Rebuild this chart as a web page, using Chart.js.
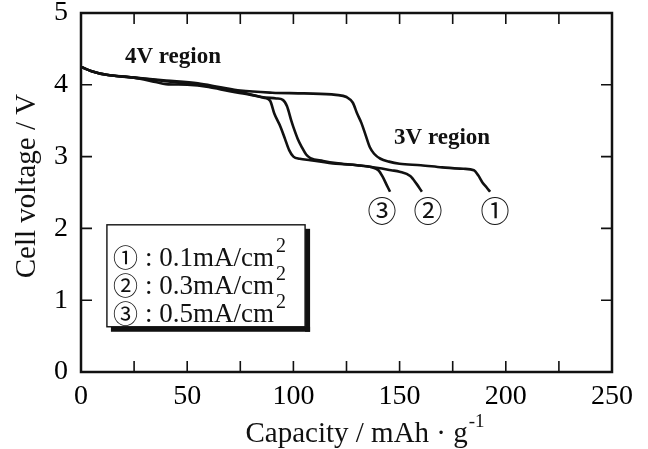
<!DOCTYPE html>
<html><head><meta charset="utf-8">
<script src="https://cdn.jsdelivr.net/npm/chart.js@4.4.1/dist/chart.umd.min.js"></script>
<style>html,body{margin:0;padding:0;background:#fff}canvas{display:block}</style>
</head><body>
<canvas id="c" width="648" height="449"></canvas>
<script>
'use strict';
// Discharge curves (cell voltage vs capacity) at three current densities.

const CAP_1 = [0, 5, 12, 25, 40, 55, 65, 75, 90, 105, 120, 125, 128, 130, 132, 134, 136, 138, 141, 145, 150, 160, 170, 180, 185, 187, 189, 191, 192.6];
const V_1   = [4.25, 4.19, 4.14, 4.10, 4.06, 4.02, 3.97, 3.92, 3.89, 3.88, 3.86, 3.83, 3.75, 3.60, 3.47, 3.30, 3.13, 3.04, 2.97, 2.93, 2.90, 2.88, 2.85, 2.83, 2.81, 2.74, 2.64, 2.57, 2.51];

const CAP_2 = [0, 5, 12, 25, 40, 55, 65, 75, 85, 92, 95, 97, 99, 100, 102, 104, 106, 108, 114, 120, 130, 140, 146, 150, 155, 158, 160.5];
const V_2   = [4.25, 4.19, 4.14, 4.10, 4.05, 4.00, 3.96, 3.90, 3.83, 3.81, 3.79, 3.70, 3.50, 3.41, 3.25, 3.13, 3.03, 2.98, 2.94, 2.91, 2.88, 2.84, 2.81, 2.79, 2.73, 2.62, 2.51];

const CAP_3 = [0, 5, 12, 25, 35, 40, 50, 60, 70, 80, 86, 89, 91, 94, 96, 98, 100, 103, 108, 120, 130, 137, 140, 142, 144, 145.5];
const V_3   = [4.25, 4.19, 4.14, 4.10, 4.04, 4.01, 4.00, 3.97, 3.91, 3.86, 3.82, 3.78, 3.60, 3.41, 3.25, 3.09, 3.00, 2.97, 2.95, 2.90, 2.88, 2.85, 2.81, 2.72, 2.60, 2.51];

const MARKS = ['\u2460', '\u2461', '\u2462'];          // ① ② ③
const RATES = ['0.1', '0.3', '0.5'];                    // mA/cm2
const X_MIN = 0, X_MAX = 250, X_STEP = 25, X_LABEL_STEP = 50;
const Y_MIN = 0, Y_MAX = 5, Y_STEP = 1;

const SERIF = "'Liberation Serif', 'Times New Roman', serif";
const CIRC = "'Noto Sans CJK JP', 'DejaVu Sans', sans-serif";
const INK = '#111';

const pts = (xs, ys) => xs.map((x, i) => ({ x, y: ys[i] }));
const line = (xs, ys) => ({ data: pts(xs, ys), borderColor: INK, borderWidth: 2.6, pointRadius: 0, cubicInterpolationMode: 'monotone', fill: false });

// frame, inward ticks, annotations, legend box and axis titles
const decor = {
  id: 'decor',
  afterDraw(chart) {
    const { ctx, chartArea: a, scales: { x, y } } = chart;
    ctx.save();
    ctx.strokeStyle = INK; ctx.fillStyle = INK;

    ctx.lineWidth = 2.5;
    ctx.strokeRect(a.left, a.top, a.right - a.left, a.bottom - a.top);

    ctx.lineWidth = 1.6;
    ctx.beginPath();
    for (let v = X_MIN + X_STEP; v < X_MAX; v += X_STEP) {
      const px = x.getPixelForValue(v);
      ctx.moveTo(px, a.bottom); ctx.lineTo(px, a.bottom - 11);
      ctx.moveTo(px, a.top); ctx.lineTo(px, a.top + 11);
    }
    for (let v = Y_MIN + Y_STEP; v < Y_MAX; v += Y_STEP) {
      const py = y.getPixelForValue(v);
      ctx.moveTo(a.left, py); ctx.lineTo(a.left + 11, py);
      ctx.moveTo(a.right, py); ctx.lineTo(a.right - 11, py);
    }
    ctx.stroke();

    // region labels
    ctx.textAlign = 'center'; ctx.textBaseline = 'middle';
    ctx.font = `bold 23px ${SERIF}`;
    ctx.fillText('4V region', x.getPixelForValue(43.3), y.getPixelForValue(4.39));
    ctx.fillText('3V region', x.getPixelForValue(170), y.getPixelForValue(3.26));

    // curve end markers
    ctx.font = `29px ${CIRC}`;
    const ends = [194.9, 163.4, 141.7];
    MARKS.forEach((m, i) => ctx.fillText(m, x.getPixelForValue(ends[i]), y.getPixelForValue(2.24)));

    // legend box with drop shadow
    const bx = x.getPixelForValue(12.2), by = y.getPixelForValue(2.05);
    const bw = x.getPixelForValue(105.5) - bx, bh = y.getPixelForValue(0.63) - by;
    ctx.fillRect(bx + 4, by + bh, bw + 1, 5);
    ctx.fillRect(bx + bw, by + 4, 5, bh + 1);
    ctx.fillStyle = '#fff'; ctx.fillRect(bx, by, bw, bh);
    ctx.fillStyle = INK; ctx.lineWidth = 1.4; ctx.strokeRect(bx, by, bw, bh);
    ctx.textAlign = 'left'; ctx.textBaseline = 'alphabetic';
    MARKS.forEach((m, i) => {
      const base = by + 41 + i * 28;
      ctx.font = `25px ${CIRC}`;
      ctx.fillText(m, bx + 6, base + 1);
      ctx.font = `27px ${SERIF}`;
      const t = ': ' + RATES[i] + 'mA/cm';
      ctx.fillText(t, bx + 38, base);
      const w = ctx.measureText(t).width;
      ctx.font = `20px ${SERIF}`;
      ctx.fillText('2', bx + 38 + w + 2, base - 14);
    });

    // x title with superscript
    ctx.font = `29px ${SERIF}`;
    const xt = 'Capacity / mAh \u00b7 g';
    const xw = ctx.measureText(xt).width;
    ctx.font = `19px ${SERIF}`;
    const sw = ctx.measureText('-1').width;
    const sx = (a.left + a.right) / 2 + 18 - (xw + sw) / 2;
    ctx.font = `29px ${SERIF}`;
    ctx.fillText(xt, sx, 442);
    ctx.font = `19px ${SERIF}`;
    ctx.fillText('-1', sx + xw + 1, 427);

    // y title
    ctx.translate(27, 186);
    ctx.rotate(-Math.PI / 2);
    ctx.textAlign = 'center'; ctx.textBaseline = 'middle';
    ctx.font = `29px ${SERIF}`;
    ctx.fillText('Cell voltage / V', 0, 0);
    ctx.restore();
  }
};

new Chart(document.getElementById('c'), {
  type: 'line',
  data: { datasets: [line(CAP_1, V_1), line(CAP_2, V_2), line(CAP_3, V_3)] },
  options: {
    responsive: false, animation: false, devicePixelRatio: 1,
    layout: { padding: { top: 13, right: 36, left: 0, bottom: 0 } },
    plugins: { legend: { display: false }, tooltip: { enabled: false } },
    scales: {
      x: {
        type: 'linear', min: X_MIN, max: X_MAX,
        afterFit: s => { s.height = 77; s.paddingLeft = 0; s.paddingRight = 0; },
        grid: { display: false }, border: { display: false },
        ticks: { stepSize: X_STEP, autoSkip: false, maxRotation: 0, padding: 4, color: '#000', font: { family: SERIF, size: 28, lineHeight: 0.9 },
          callback: v => (v % X_LABEL_STEP === 0 ? v : '') }
      },
      y: {
        min: Y_MIN, max: Y_MAX,
        afterFit: s => { s.width = 81; s.paddingTop = 0; s.paddingBottom = 0; },
        grid: { display: false }, border: { display: false },
        ticks: { stepSize: Y_STEP, padding: 5, color: '#000', font: { family: SERIF, size: 28, lineHeight: 0.9 } }
      }
    }
  },
  plugins: [decor]
});
</script>
</body></html>
